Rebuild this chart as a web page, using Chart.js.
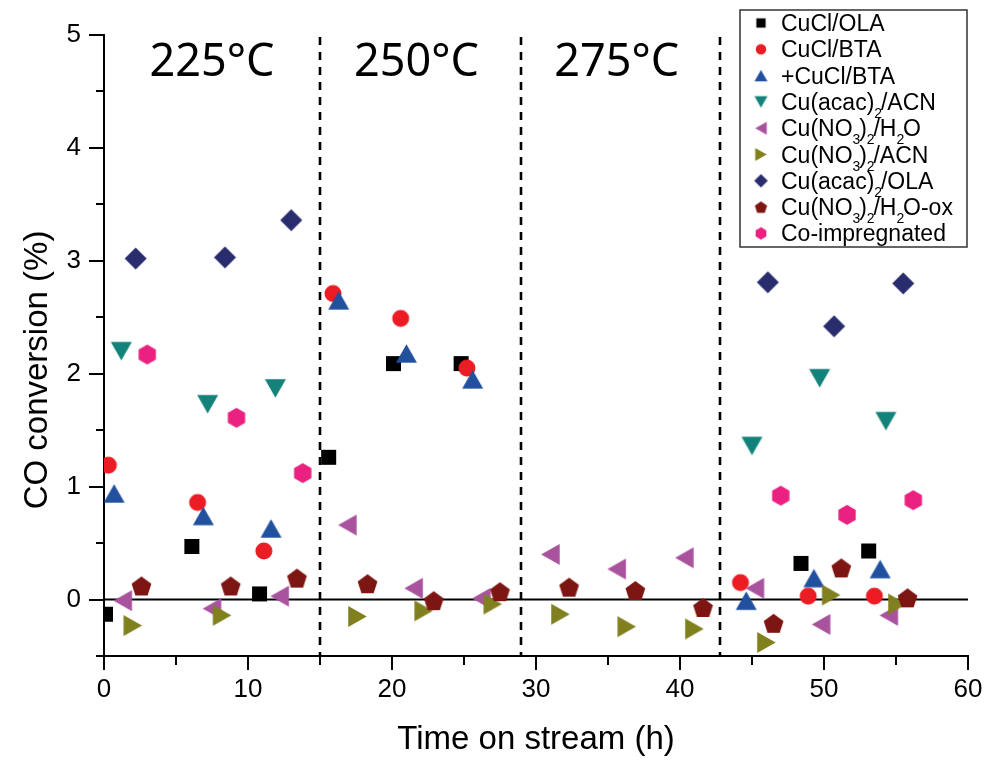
<!DOCTYPE html>
<html>
<head>
<meta charset="utf-8">
<title>CO conversion vs time on stream</title>
<script src="https://cdn.jsdelivr.net/npm/chart.js@4.4.1/dist/chart.umd.min.js"></script>
<style>
  html, body { margin: 0; padding: 0; background: #fff; }
  #wrap { width: 989px; height: 762px; }
</style>
</head>
<body>
<div id="wrap"><canvas id="coChart" width="989" height="762"></canvas></div>
<script>
// time on stream (h) / CO conversion (%) per catalyst
const cuclOlaT = [0.1, 6.1, 10.8, 15.6, 20.1, 24.8, 48.4, 53.1];
const cuclOlaY = [-0.13, 0.47, 0.05, 1.26, 2.09, 2.09, 0.32, 0.43];
const cuclBtaT = [0.3, 6.5, 11.1, 15.9, 20.6, 25.2, 44.2, 48.9, 53.5];
const cuclBtaY = [1.19, 0.86, 0.43, 2.71, 2.49, 2.05, 0.15, 0.03, 0.03];
const plusBtaT = [0.7, 6.9, 11.6, 16.3, 21.0, 25.6, 44.6, 49.3, 53.9];
const plusBtaY = [0.94, 0.74, 0.63, 2.65, 2.18, 1.95, -0.01, 0.19, 0.27];
const acacAcnT = [1.2, 7.2, 11.9, 45.0, 49.7, 54.3];
const acacAcnY = [2.20, 1.73, 1.87, 1.36, 1.96, 1.58];
const no3H2oT = [1.3, 7.5, 12.2, 16.9, 21.5, 26.2, 31.0, 35.6, 40.3, 45.2, 49.8, 54.5];
const no3H2oY = [-0.01, -0.08, 0.03, 0.66, 0.10, 0.01, 0.40, 0.27, 0.37, 0.10, -0.22, -0.14];
const no3AcnT = [2.0, 8.2, 17.6, 22.2, 27.0, 31.7, 36.3, 41.0, 46.0, 50.5, 55.1];
const no3AcnY = [-0.23, -0.14, -0.15, -0.10, -0.04, -0.13, -0.24, -0.26, -0.38, 0.04, -0.04];
const acacOlaT = [2.2, 8.4, 13.0, 46.1, 50.7, 55.5];
const acacOlaY = [3.02, 3.03, 3.36, 2.81, 2.42, 2.80];
const no3OxT = [2.6, 8.8, 13.4, 18.3, 22.9, 27.5, 32.3, 36.9, 41.6, 46.5, 51.2, 55.8];
const no3OxY = [0.12, 0.12, 0.19, 0.14, -0.01, 0.07, 0.11, 0.08, -0.07, -0.21, 0.28, 0.015];
const coImpT = [3.0, 9.2, 13.8, 47.0, 51.6, 56.2];
const coImpY = [2.17, 1.61, 1.12, 0.92, 0.75, 0.88];

// names use _x for a subscript character
const seriesNames = ['CuCl/OLA', 'CuCl/BTA', '+CuCl/BTA', 'Cu(acac)_2/ACN', 'Cu(NO_3)_2/H_2O',
  'Cu(NO_3)_2/ACN', 'Cu(acac)_2/OLA', 'Cu(NO_3)_2/H_2O-ox', 'Co-impregnated'];
const seriesT = [cuclOlaT, cuclBtaT, plusBtaT, acacAcnT, no3H2oT, no3AcnT, acacOlaT, no3OxT, coImpT];
const seriesY = [cuclOlaY, cuclBtaY, plusBtaY, acacAcnY, no3H2oY, no3AcnY, acacOlaY, no3OxY, coImpY];

// temperature steps
const stageBounds = [15, 28.95, 42.75];
const stageTemps = ['225°C', '250°C', '275°C'];
const stageLabelT = [7.5, 21.7, 35.6];

const xTicks = [0, 10, 20, 30, 40, 50, 60];

const colors = ['#000000', '#ec1c24', '#21509f', '#12827a', '#a9539f', '#80801f', '#292c6d', '#7d1612', '#ea2181'];
const shapes = ['square', 'circle', 'triUp', 'triDown', 'triLeft', 'triRight', 'diamond', 'pentagon', 'hexagon'];
const shapeSize = { square: 15, circle: 17, triUp: 21, triDown: 21, triLeft: 21, triRight: 21, diamond: 22, pentagon: 10.4, hexagon: 10 };

const FONT = '"Liberation Sans", Arial, sans-serif';

function polygon(ctx, pts) {
  ctx.beginPath();
  ctx.moveTo(pts[0][0], pts[0][1]);
  for (let i = 1; i < pts.length; i++) ctx.lineTo(pts[i][0], pts[i][1]);
  ctx.closePath();
  ctx.fill();
}

function marker(shape, color, k) {
  const s = shapeSize[shape] * k;
  const dim = Math.ceil(s * 2.2) + 4;
  const c = document.createElement('canvas');
  c.width = dim; c.height = dim;
  const g = c.getContext('2d');
  g.translate(dim / 2, dim / 2);
  g.fillStyle = color;
  const w = s, h = s * 0.88;
  if (shape === 'square') {
    g.fillRect(-s / 2, -s / 2, s, s);
  } else if (shape === 'circle') {
    g.beginPath(); g.arc(0, 0, s / 2, 0, Math.PI * 2); g.fill();
  } else if (shape === 'diamond') {
    polygon(g, [[0, -s / 2], [s / 2, 0], [0, s / 2], [-s / 2, 0]]);
  } else if (shape === 'triUp') {
    polygon(g, [[0, -h / 2], [w / 2, h / 2], [-w / 2, h / 2]]);
  } else if (shape === 'triDown') {
    polygon(g, [[0, h / 2], [w / 2, -h / 2], [-w / 2, -h / 2]]);
  } else if (shape === 'triLeft') {
    polygon(g, [[-h / 2, 0], [h / 2, -w / 2], [h / 2, w / 2]]);
  } else if (shape === 'triRight') {
    polygon(g, [[h / 2, 0], [-h / 2, -w / 2], [-h / 2, w / 2]]);
  } else {
    const n = shape === 'pentagon' ? 5 : 6;
    const dy = n === 5 ? s * 0.095 : 0;
    const pts = [];
    for (let i = 0; i < n; i++) {
      const a = -Math.PI / 2 + i * 2 * Math.PI / n;
      pts.push([s * Math.cos(a), s * Math.sin(a) + dy]);
    }
    polygon(g, pts);
  }
  return c;
}

const dataMarkers = shapes.map((s, i) => marker(s, colors[i], 1));
const legendMarkers = shapes.map((s, i) => marker(s, colors[i], 0.62));

const datasets = seriesNames.map((name, i) => ({
  label: name,
  data: seriesT[i].map((t, j) => ({ x: t, y: seriesY[i][j] })),
  pointStyle: dataMarkers[i],
  pointRadius: 10,
  pointHoverRadius: 10,
  showLine: false,
  order: seriesNames.length - i
}));

function drawRich(ctx, text, x, y, size) {
  const parts = text.split(/_(\w)/);
  let cx = x;
  parts.forEach((p, i) => {
    if (!p) return;
    if (i % 2 === 1) {
      ctx.font = Math.round(size * 0.62) + 'px ' + FONT;
      ctx.fillText(p, cx, y + 8);
      cx += ctx.measureText(p).width * 0.85;
    } else {
      ctx.font = size + 'px ' + FONT;
      ctx.fillText(p, cx, y);
      cx += ctx.measureText(p).width;
    }
  });
}

// keep the plot frame where the layout padding puts it
function noLabelPadding(scale) {
  scale.paddingLeft = 0; scale.paddingRight = 0;
  scale.paddingTop = 0; scale.paddingBottom = 0;
}

const decor = {
  id: 'decor',
  beforeDatasetsDraw(chart) {
    const { ctx, chartArea: a, scales: { x, y } } = chart;
    ctx.save();
    ctx.strokeStyle = '#000';
    // zero line
    const y0 = y.getPixelForValue(0);
    ctx.lineWidth = 2;
    ctx.beginPath(); ctx.moveTo(a.left, y0); ctx.lineTo(a.right, y0); ctx.stroke();
    // dashed lines between temperature steps
    ctx.lineWidth = 2.6;
    ctx.setLineDash([8, 7]);
    stageBounds.forEach(t => {
      const px = Math.round(x.getPixelForValue(t));
      ctx.beginPath(); ctx.moveTo(px, a.top + 2); ctx.lineTo(px, a.bottom); ctx.stroke();
    });
    ctx.setLineDash([]);
    ctx.fillStyle = '#000';
    ctx.font = '45px "Noto Sans", "Open Sans", sans-serif';
    ctx.textAlign = 'center';
    ctx.textBaseline = 'alphabetic';
    stageTemps.forEach((s, i) => ctx.fillText(s, x.getPixelForValue(stageLabelT[i]), 76));
    ctx.restore();
  },
  afterDraw(chart) {
    const { ctx, chartArea: a, scales: { x, y } } = chart;
    ctx.save();
    ctx.strokeStyle = '#000';
    ctx.lineWidth = 2;
    // outward ticks, long on labelled values
    for (let v = -0.5; v <= 5.001; v += 0.5) {
      const py = Math.round(y.getPixelForValue(v));
      const len = Number.isInteger(v) ? 15 : 8;
      ctx.beginPath(); ctx.moveTo(a.left, py); ctx.lineTo(a.left - len, py); ctx.stroke();
    }
    for (let v = 0; v <= 60; v += 5) {
      const px = Math.round(x.getPixelForValue(v));
      const len = v % 10 === 0 ? 14 : 9;
      ctx.beginPath(); ctx.moveTo(px, a.bottom); ctx.lineTo(px, a.bottom + len); ctx.stroke();
    }
    // y axis title, sitting a little below the axis middle
    ctx.save();
    ctx.translate(38, 370);
    ctx.rotate(-Math.PI / 2);
    ctx.fillStyle = '#000';
    ctx.font = '33px ' + FONT;
    ctx.textAlign = 'center';
    ctx.textBaseline = 'middle';
    ctx.fillText('CO conversion (%)', 0, 0);
    ctx.restore();
    // legend box
    const L = 740, T = 10, R = 967, B = 247;
    ctx.fillStyle = '#fff';
    ctx.fillRect(L, T, R - L, B - T);
    ctx.strokeStyle = '#333';
    ctx.lineWidth = 1.5;
    ctx.strokeRect(L, T, R - L, B - T);
    ctx.fillStyle = '#000';
    ctx.textAlign = 'left';
    ctx.textBaseline = 'alphabetic';
    seriesNames.forEach((name, i) => {
      const cy = 23 + i * 26.3;
      const m = legendMarkers[i];
      ctx.drawImage(m, 761 - m.width / 2, cy - m.height / 2);
      drawRich(ctx, name, 781, cy + 8, 23);
    });
    ctx.restore();
  }
};

new Chart(document.getElementById('coChart'), {
  type: 'scatter',
  data: { datasets },
  options: {
    responsive: false,
    animation: false,
    layout: { padding: { top: 35, right: 21, left: 0, bottom: 0 } },
    plugins: { legend: { display: false }, tooltip: { enabled: false } },
    scales: {
      x: {
        type: 'linear',
        min: 0, max: 60,
        afterFit(scale) { scale.height = 106; noLabelPadding(scale); },
        afterBuildTicks(scale) { scale.ticks = xTicks.map(v => ({ value: v })); },
        grid: { display: false, drawTicks: false },
        border: { display: true, color: '#000', width: 2 },
        ticks: { color: '#000', padding: 18, maxRotation: 0, font: { family: FONT, size: 26 } },
        title: { display: true, text: 'Time on stream (h)', color: '#000', padding: { top: 0, bottom: 2 },
          font: { family: FONT, size: 33 } }
      },
      y: {
        type: 'linear',
        min: -0.5, max: 5,
        afterFit(scale) { scale.width = 104; noLabelPadding(scale); },
        ticks: { stepSize: 0.5, color: '#000', padding: 23,
          callback: v => Number.isInteger(v) ? v : '',
          font: { family: FONT, size: 26 } },
        grid: { display: false, drawTicks: false },
        border: { display: true, color: '#000', width: 2 }
      }
    }
  },
  plugins: [decor]
});
</script>
</body>
</html>
